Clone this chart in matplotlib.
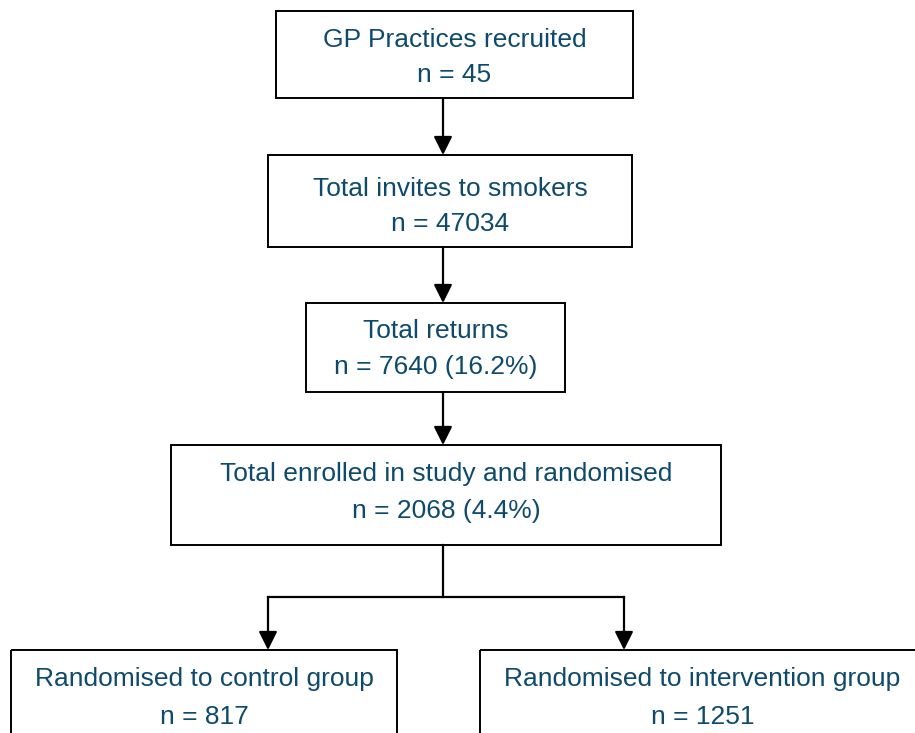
import matplotlib
matplotlib.use('Agg')
import matplotlib.pyplot as plt
from matplotlib.patches import Rectangle

# flowchart content
titles = ['GP Practices recruited', 'Total invites to smokers', 'Total returns',
          'Total enrolled in study and randomised',
          'Randomised to control group', 'Randomised to intervention group']
counts = ['n = 45', 'n = 47034', 'n = 7640 (16.2%)', 'n = 2068 (4.4%)',
          'n = 817', 'n = 1251']

# box geometry (left, top, right, bottom) in pixel space
box_left = [276, 268, 306, 171, 11, 480]
box_top = [11, 155, 303, 445, 650, 650]
box_right = [633, 632, 565, 721, 397, 925]
box_bottom = [98, 247, 392, 545, 745, 745]
# text baselines offsets (first line, second line) from box top
line1_off = [29, 34, 28, 29, 29, 29]
line2_off = [64, 69, 64, 66, 67, 67]

text_col = '#0e4a6b'
plt.rcParams['font.family'] = ['Liberation Sans', 'DejaVu Sans']

fig = plt.figure(figsize=(9.15, 7.33), dpi=100)
ax = fig.add_axes([0, 0, 1, 1])
ax.set_xlim(0, 915)
ax.set_ylim(733, 0)
ax.axis('off')

for i in range(len(titles)):
    l, t, r, b = box_left[i], box_top[i], box_right[i], box_bottom[i]
    ax.add_patch(Rectangle((l, t), r - l, b - t, fill=False, ec='black', lw=1.4))
    cx = (l + min(r, 915)) / 2 + (5 if i == 5 else 0)
    ax.text(cx, t + line1_off[i], titles[i], ha='center', va='center', fontsize=19, color=text_col)
    ax.text(cx, t + line2_off[i], counts[i], ha='center', va='center', fontsize=19, color=text_col)

arrow = dict(arrowstyle='-|>', color='black', lw=1.6, mutation_scale=28, shrinkA=0, shrinkB=0)
cx0 = 443
for i in range(3):
    ax.annotate('', xy=(cx0, box_top[i + 1]), xytext=(cx0, box_bottom[i]), arrowprops=arrow)

split_y = 597
ax.plot([cx0, cx0], [box_bottom[3], split_y], color='black', lw=1.6)
ax.plot([268, 624], [split_y, split_y], color='black', lw=1.6)
for x in [268, 624]:
    ax.annotate('', xy=(x, box_top[4]), xytext=(x, split_y), arrowprops=arrow)

fig.savefig('out.png', dpi=100)
